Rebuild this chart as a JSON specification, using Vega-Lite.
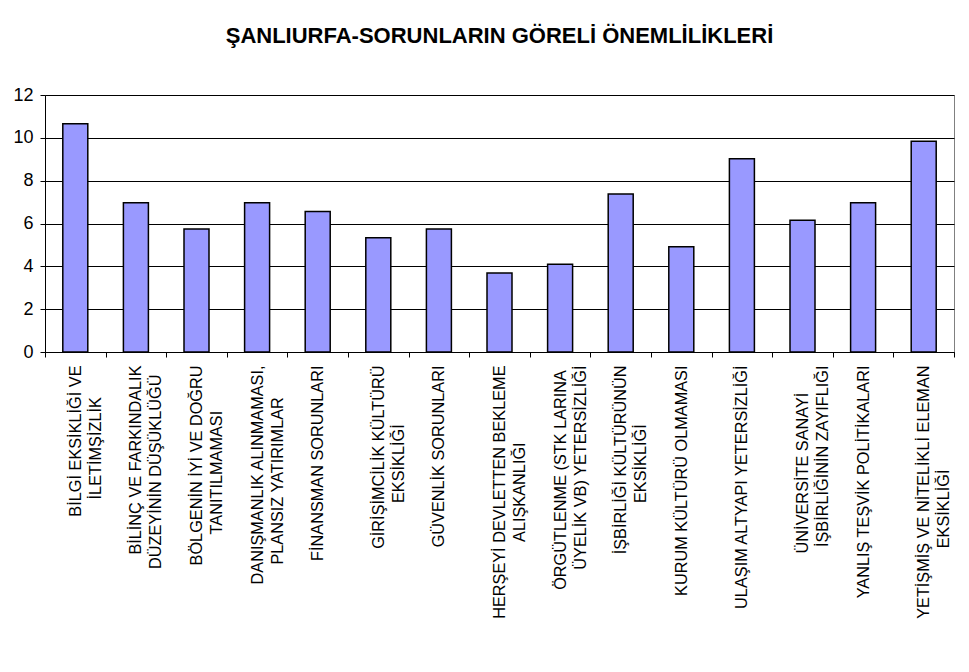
{
  "$schema": "https://vega.github.io/schema/vega-lite/v6.json",
  "autosize": "none",
  "width": 909,
  "height": 257,
  "padding": {"left": 45, "top": 95, "right": 15, "bottom": 320},
  "background": "white",
  "title": {
    "text": "ŞANLIURFA-SORUNLARIN GÖRELİ ÖNEMLİLİKLERİ",
    "font": "Liberation Sans",
    "fontSize": 22,
    "fontWeight": "bold",
    "color": "black",
    "anchor": "middle",
    "offset": 38
  },
  "data": {
    "values": [
      {"sorun": "BİLGİ EKSİKLİĞİ VE|İLETİMŞİZLİK", "deger": 10.66},
      {"sorun": "BİLİNÇ VE FARKINDALIK|DÜZEYİNİN DÜŞÜKLÜĞÜ", "deger": 6.97},
      {"sorun": "BÖLGENİN İYİ VE DOĞRU|TANITILMAMASI", "deger": 5.74},
      {"sorun": "DANIŞMANLIK  ALINMAMASI,|PLANSIZ YATIRIMLAR", "deger": 6.97},
      {"sorun": "FİNANSMAN SORUNLARI", "deger": 6.56},
      {"sorun": "GİRİŞİMCİLİK KÜLTÜRÜ|EKSİKLİĞİ", "deger": 5.33},
      {"sorun": "GÜVENLİK SORUNLARI", "deger": 5.74},
      {"sorun": "HERŞEYİ DEVLETTEN BEKLEME|ALIŞKANLIĞI", "deger": 3.69},
      {"sorun": "ÖRGÜTLENME (STK LARINA|ÜYELİK VB) YETERSİZLİĞİ", "deger": 4.10},
      {"sorun": "İŞBİRLİĞİ KÜLTÜRÜNÜN|EKSİKLİĞİ", "deger": 7.38},
      {"sorun": "KURUM KÜLTÜRÜ OLMAMASI", "deger": 4.92},
      {"sorun": "ULAŞIM  ALTYAPI YETERSİZLİĞİ", "deger": 9.02},
      {"sorun": "ÜNİVERSİTE SANAYİ|İŞBİRLİĞİNİN ZAYIFLIĞI", "deger": 6.15},
      {"sorun": "YANLIŞ TEŞVİK POLİTİKALARI", "deger": 6.97},
      {"sorun": "YETİŞMİŞ VE NİTELİKLİ ELEMAN|EKSİKLİĞİ", "deger": 9.84}
    ]
  },
  "mark": {"type": "bar", "width": 25, "fill": "#9999FF", "stroke": "black", "strokeWidth": 1.5},
  "encoding": {
    "x": {
      "field": "sorun",
      "type": "nominal",
      "sort": null,
      "scale": {"paddingInner": 0, "paddingOuter": 0},
      "axis": {
        "title": null,
        "labelExpr": "length(split(datum.label, '|')) > 1 ? [pad(split(datum.label, '|')[0], length(split(datum.label, '|')[0]) + round(1.2 * (max(length(split(datum.label, '|')[0]), length(split(datum.label, '|')[1])) - length(split(datum.label, '|')[0]))), '\u00a0') + '\u200b', pad(split(datum.label, '|')[1], length(split(datum.label, '|')[1]) + round(1.2 * (max(length(split(datum.label, '|')[0]), length(split(datum.label, '|')[1])) - length(split(datum.label, '|')[1]))), '\u00a0') + '\u200b'] : datum.label",
        "labelAngle": -90,
        "labelAlign": "right",
        "labelBaseline": "middle",
        "labelFont": "Liberation Sans",
        "labelFontSize": 16.3,
        "labelLineHeight": 20,
        "labelColor": "black",
        "labelPadding": 8,
        "labelLimit": 400,
        "tickBand": "extent",
        "tickSize": 5,
        "tickColor": "black",
        "domainColor": "black",
        "grid": false
      }
    },
    "y": {
      "field": "deger",
      "type": "quantitative",
      "scale": {"domain": [0, 12], "nice": false},
      "axis": {
        "title": null,
        "values": [0, 2, 4, 6, 8, 10, 12],
        "labelFont": "Liberation Sans",
        "labelFontSize": 18,
        "labelColor": "black",
        "labelPadding": 7,
        "tickSize": 5,
        "tickColor": "black",
        "domainColor": "black",
        "grid": true,
        "gridColor": "black",
        "gridOpacity": 1
      }
    }
  },
  "config": {
    "view": {"stroke": "#808080", "strokeWidth": 1},
    "axis": {"labelFlush": false, "labelOverlap": false}
  }
}
